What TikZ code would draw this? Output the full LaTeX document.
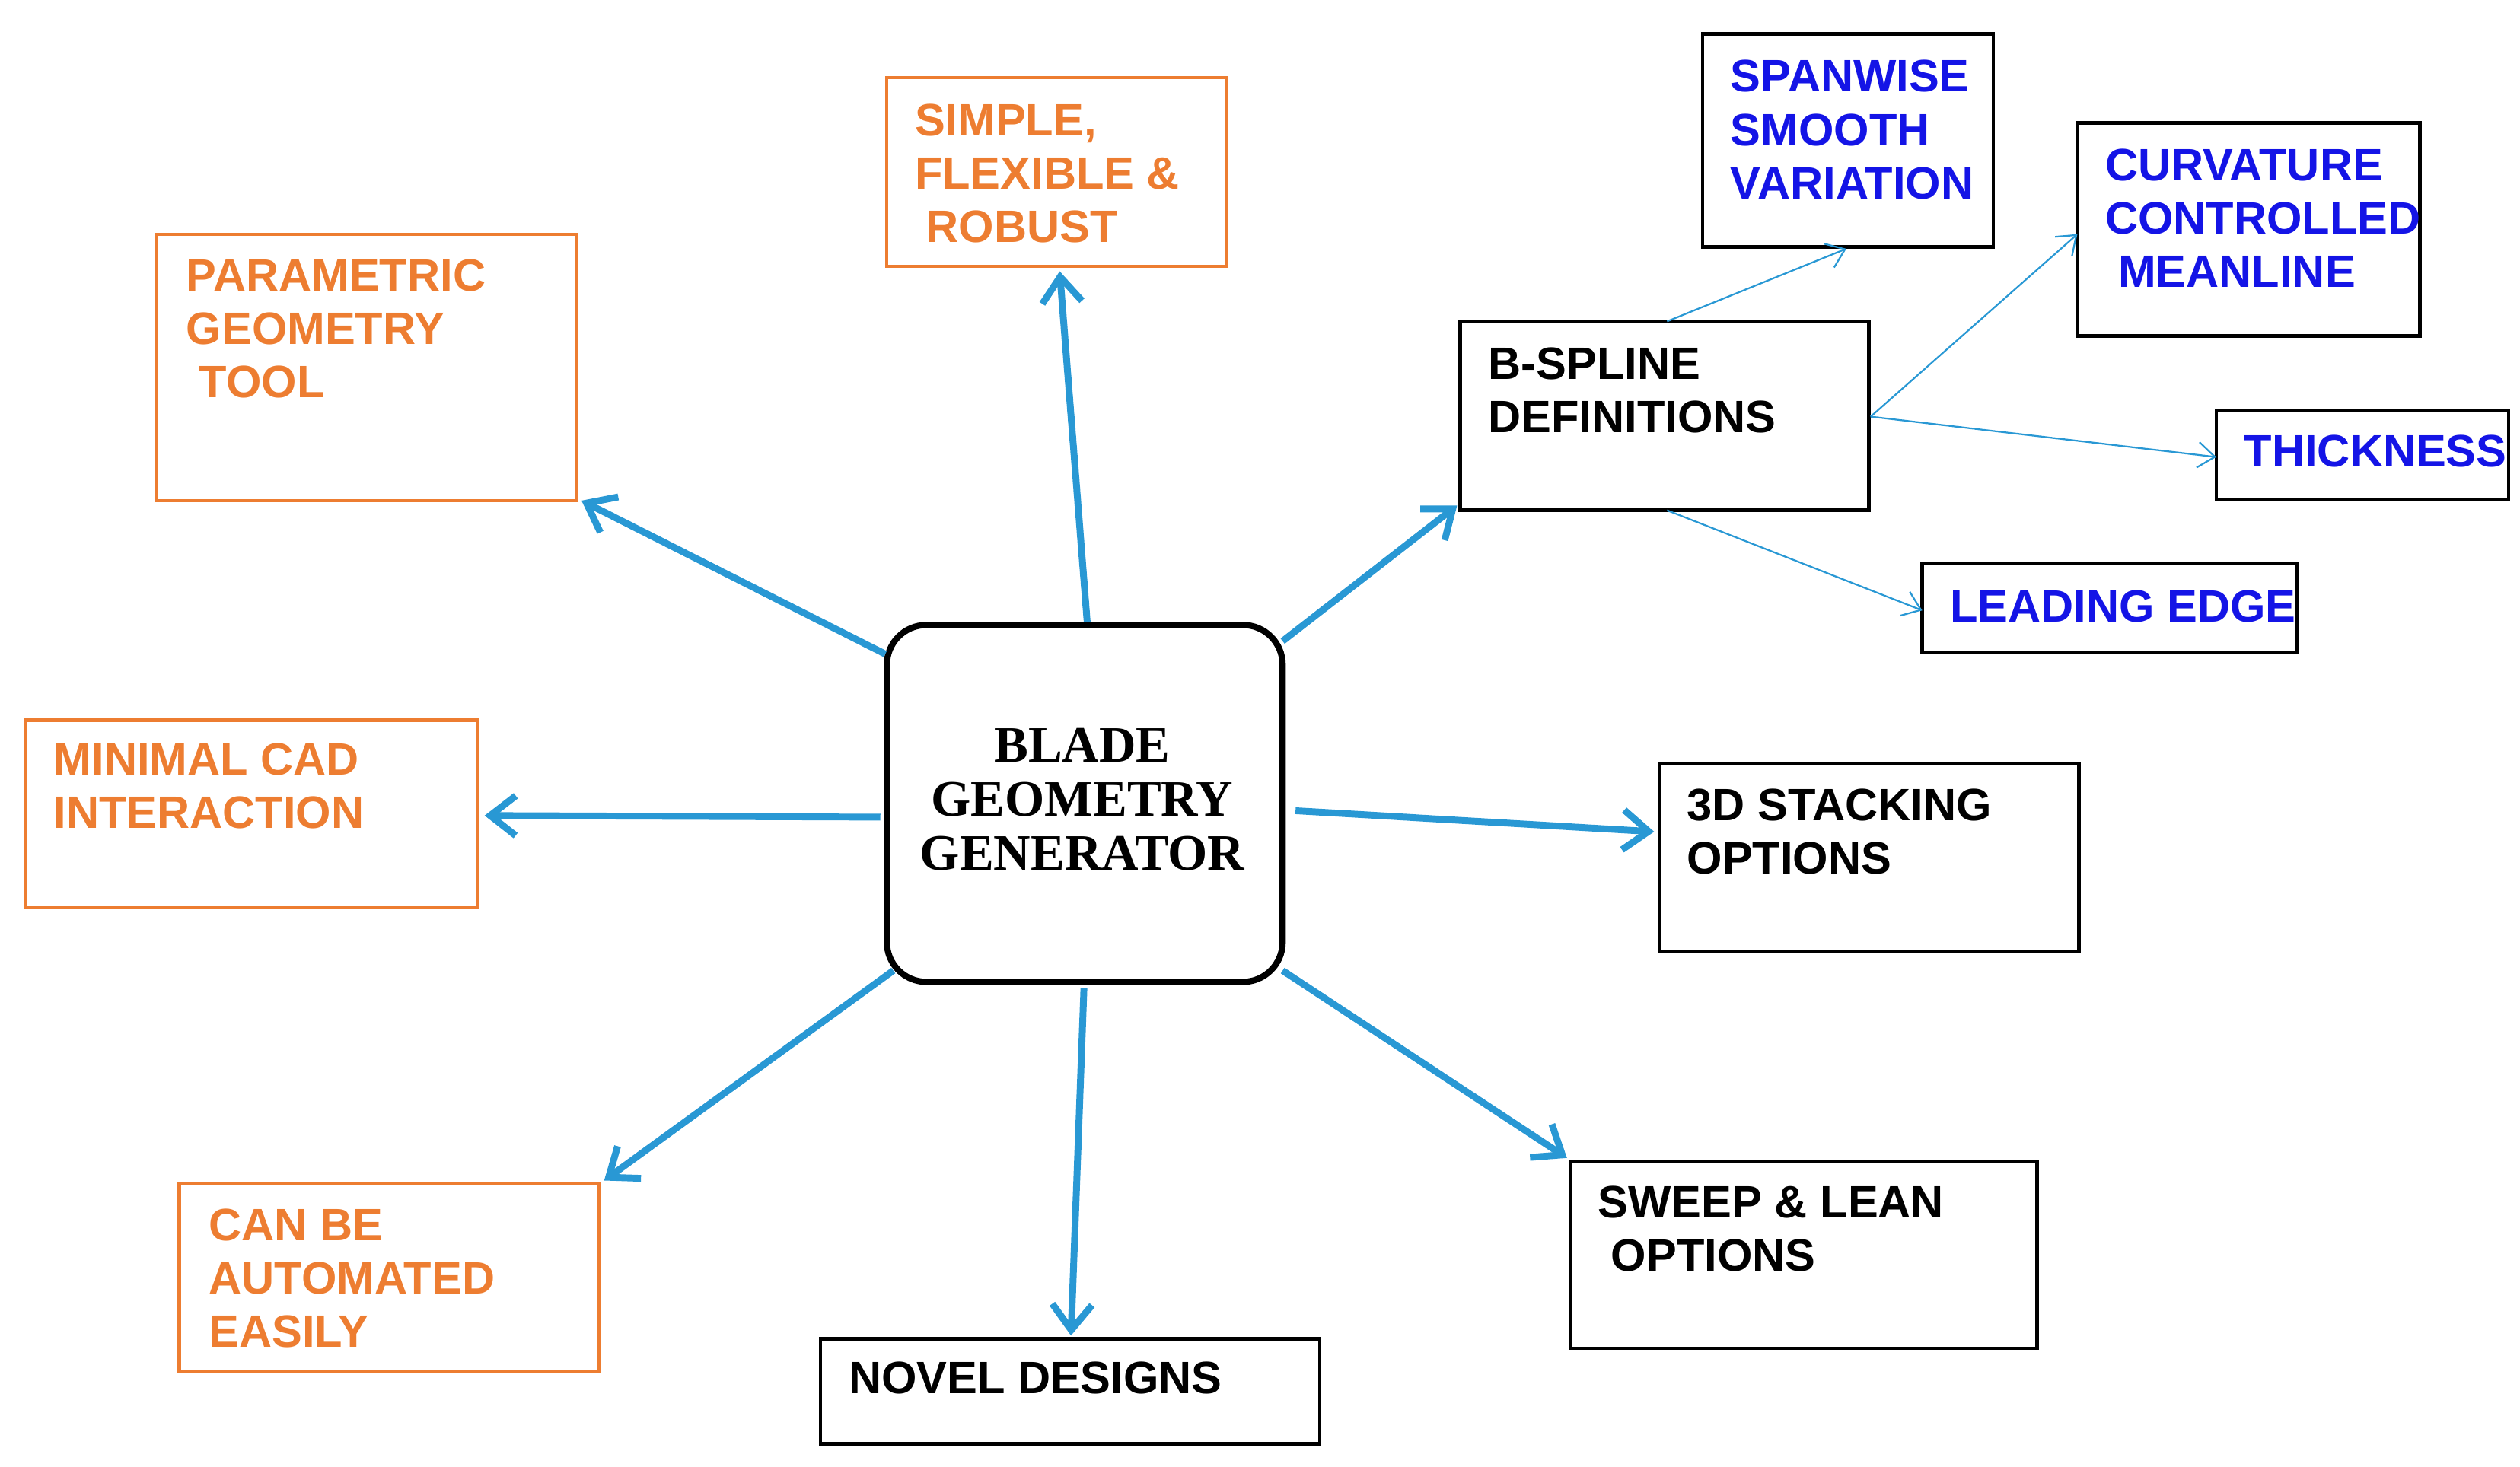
\documentclass[tikz,border=0pt]{standalone}
\usepackage{fontspec}
\setmainfont{Liberation Sans}
\newfontfamily\serifb{Liberation Serif}
\usetikzlibrary{arrows.meta}
\definecolor{orng}{RGB}{237,125,49}
\definecolor{arr}{RGB}{41,152,212}
\definecolor{blu}{RGB}{20,20,230}
\begin{document}
\begin{tikzpicture}[x=0.02cm,y=-0.02cm,
  ob/.style={draw=orng,line width=1.2pt},
  kb/.style={draw=black,line width=1.2pt},
  ot/.style={anchor=base west,inner sep=0,text=orng,font=\fontsize{16}{19}\selectfont\bfseries},
  kt/.style={anchor=base west,inner sep=0,text=black,font=\fontsize{16}{19}\selectfont\bfseries},
  bt/.style={anchor=base west,inner sep=0,text=blu,font=\fontsize{16}{19}\selectfont\bfseries},
  big/.style={draw=arr,line width=2.4pt,-{Straight Barb[length=9pt,width=14pt,line width=2.4pt]}},
  thin/.style={draw=arr,line width=0.6pt,-{Straight Barb[length=6pt,width=9pt]}}]
\useasboundingbox (0,0) rectangle (1560,908);
% boxes
\draw[ob] (549,48) rectangle (759,165);
\draw[ob] (97,145) rectangle (357,310);
\draw[ob] (16,446) rectangle (296,562);
\draw[ob] (111,733) rectangle (371,849);
\draw[kb] (508,829) rectangle (817,894);
\draw[kb] (972,719) rectangle (1261,835);
\draw[kb] (1027,473) rectangle (1287,589);
\draw[kb] (904,199) rectangle (1157,316);
\draw[kb] (1054,21) rectangle (1234,153);
\draw[kb] (1286,76) rectangle (1498,208);
\draw[kb] (1372,254) rectangle (1553,309);
\draw[kb] (1190,349) rectangle (1422,404);
\draw[line width=2.2pt,rounded corners=14pt] (549,387) rectangle (794,608);
% texts
\node[ot] (s1) at (566,84) {SIMPLE,};
\node[ot] (s2) at (566,117) {FLEXIBLE \&};
\node[ot] (s3) at (573,150) {ROBUST};
\node[ot] (p1) at (115,180) {PARAMETRIC};
\node[ot] (p2) at (115,213) {GEOMETRY};
\node[ot] (p3) at (123,246) {TOOL};
\node[ot] (m1) at (33,480) {MINIMAL CAD};
\node[ot] (m2) at (33,513) {INTERACTION};
\node[ot] (c1) at (129,768) {CAN BE};
\node[ot] (c2) at (129,801) {AUTOMATED};
\node[ot] (c3) at (129,834) {EASILY};
\node[kt] (n1) at (525,863) {NOVEL DESIGNS};
\node[kt] (w1) at (989,754) {SWEEP \& LEAN};
\node[kt] (w2) at (997,787) {OPTIONS};
\node[kt] (d1) at (1044,508) {3D STACKING};
\node[kt] (d2) at (1044,541) {OPTIONS};
\node[kt] (b1) at (921,235) {B-SPLINE};
\node[kt] (b2) at (921,268) {DEFINITIONS};
\node[bt] (v1) at (1071,57) {SPANWISE};
\node[bt] (v2) at (1071,90) {SMOOTH};
\node[bt] (v3) at (1071,123) {VARIATION};
\node[bt] (u1) at (1303,112) {CURVATURE};
\node[bt] (u2) at (1303,145) {CONTROLLED};
\node[bt] (u3) at (1311,178) {MEANLINE};
\node[bt] (t1) at (1389,289) {THICKNESS};
\node[bt] (l1) at (1207,385) {LEADING EDGE};
\node[font=\serifb\fontsize{18}{20}\selectfont\bfseries,align=center] (ctr) at (670,495) {BLADE\\[-1pt]GEOMETRY\\[-1pt]GENERATOR};
% arrows
\draw[big] (673,385) -- (656,168);
\draw[big] (548,405) -- (360,310);
\draw[big] (545,506) -- (300,505);
\draw[big] (553,601) -- (374,731);
\draw[big] (671,612) -- (663,827);
\draw[big] (794,601) -- (970,717);
\draw[big] (802,502) -- (1024,515);
\draw[big] (794,397) -- (902,313);
\draw[thin] (1032,199) -- (1143,154);
\draw[thin] (1158,258) -- (1286,145);
\draw[thin] (1158,258) -- (1372,283);
\draw[thin] (1032,316) -- (1190,378);
\end{tikzpicture}
\end{document}
